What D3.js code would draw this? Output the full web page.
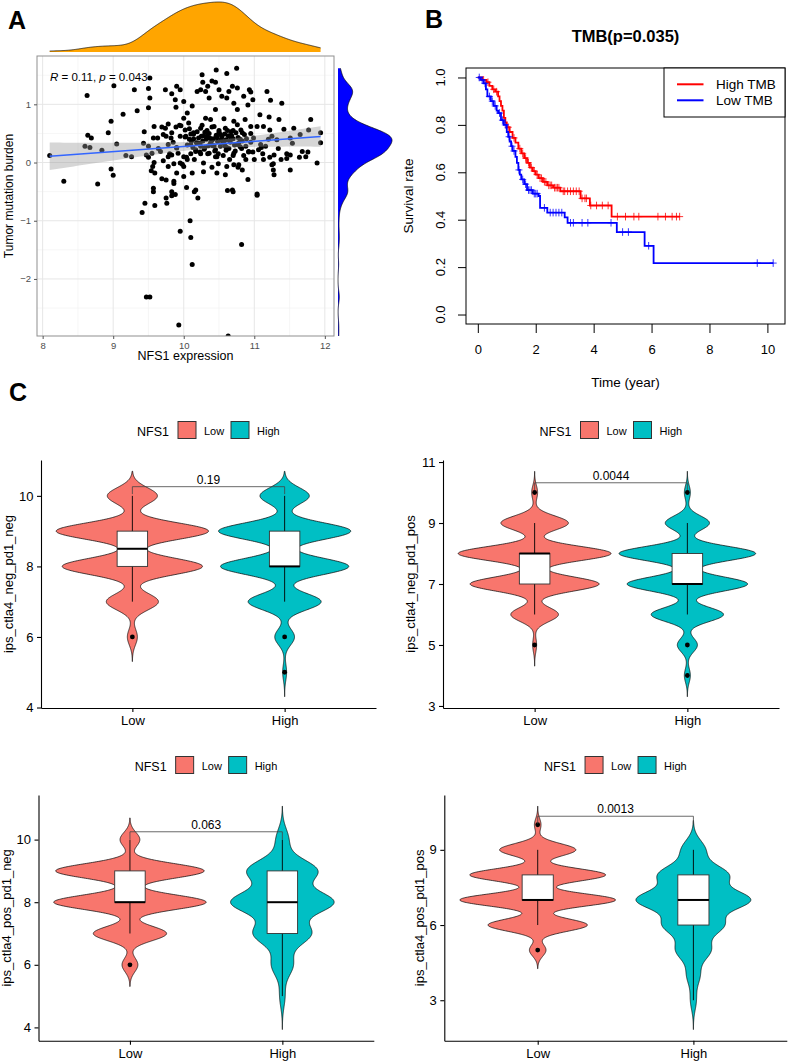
<!DOCTYPE html>
<html>
<head>
<meta charset="utf-8">
<script src="https://cdn.jsdelivr.net/npm/d3@7"></script>
<style>
  body { margin: 0; background: #fff; }
  svg { display: block; font-family: "Liberation Sans", Arial, Helvetica, sans-serif; }
</style>
</head>
<body>
<script>
/* ---------------- data: panel A (NFS1 expression vs TMB) ---------------- */
const nfs1Tmb = [
  [8.63,1.15],[9.01,1.32],[9.30,1.25],[9.52,1.45],[9.50,1.27],[9.52,1.11],[9.34,0.89],[9.50,0.94],[9.14,0.83],[8.97,0.71],
  [8.93,0.51],[8.64,0.47],[8.69,0.42],[8.60,0.28],[8.67,0.26],[8.84,0.21],[9.05,0.32],[8.10,0.12],[9.18,0.12],[9.26,0.10],
  [8.97,-0.11],[9.00,-0.22],[8.30,-0.32],[8.78,-0.37],[9.44,0.53],[9.57,0.42],[9.43,0.33],[9.50,0.28],[9.47,0.13],[9.55,0.16],
  [9.58,0.00],[9.56,-0.07],[9.59,-0.18],[9.57,-0.44],[9.69,0.61],[9.74,0.59],[9.71,0.48],[9.63,0.42],[9.78,0.31],[9.67,0.19],
  [9.78,0.10],[9.71,0.03],[9.78,-0.07],[9.75,-0.30],[9.86,-0.36],[9.83,-0.50],[9.74,1.25],[9.83,1.18],[9.90,1.31],[9.95,1.25],
  [9.88,1.08],[10.00,1.05],[9.89,0.95],[10.00,0.76],[9.96,0.63],[10.02,0.56],[9.83,0.51],[9.82,0.42],[9.90,0.25],[9.83,0.13],
  [9.92,0.16],[10.00,0.10],[9.86,-0.02],[9.95,-0.01],[10.00,-0.07],[9.90,-0.18],[10.00,-0.24],[9.88,-0.55],
  [10.75,1.62],[10.46,1.59],[10.61,1.53],[10.26,1.51],[10.27,1.38],[10.40,1.40],[10.45,1.38],[10.34,1.31],[10.24,1.25],[10.19,1.22],
  [10.31,1.22],[10.50,1.25],[10.64,1.22],[10.69,1.31],[10.76,1.28],[10.93,1.25],[10.95,1.21],[11.18,1.22],[10.54,1.14],[10.36,1.11],
  [10.61,1.11],[10.85,1.14],[10.98,1.08],[10.91,0.99],[10.71,1.02],[11.23,1.07],[11.39,1.02],[10.12,0.97],[10.05,0.85],[10.45,0.91],
  [10.76,0.91],[11.08,0.82],[11.21,0.78],[11.35,0.74],[11.80,0.74],[10.31,0.76],[10.38,0.74],[10.57,0.75],[10.71,0.71],[10.87,0.74],
  [10.07,0.68],[10.24,0.59],[10.43,0.62],[10.59,0.59],[10.76,0.65],[10.95,0.62],[11.04,0.62],[11.13,0.62],[11.22,0.56],[11.42,0.57],
  [11.56,0.59],[11.65,0.48],[11.77,0.56],[11.94,0.51],[11.94,0.34],[11.89,-0.01],[10.14,0.51],[10.03,0.45],[10.33,0.45],[10.52,0.48],
  [10.66,0.45],[10.83,0.51],[10.99,0.42],[11.25,0.45],[11.32,0.39],[11.51,0.42],[10.10,0.31],[10.24,0.28],[10.43,0.29],[10.59,0.28],
  [10.76,0.31],[10.88,0.28],[11.09,0.31],[11.16,0.28],[11.54,0.33],[10.17,0.19],[10.36,0.16],[10.47,0.10],[10.71,0.16],[10.92,0.19],
  [11.06,0.22],[11.28,0.13],[11.51,0.13],[11.68,0.19],[11.73,0.10],[10.05,0.05],[10.28,-0.01],[10.61,-0.07],[10.78,-0.04],[10.88,0.05],
  [11.13,0.05],[11.25,-0.04],[11.46,0.07],[10.12,-0.18],[10.28,-0.16],[10.47,-0.18],[10.71,-0.04],[10.83,-0.13],[11.27,-0.13],[11.51,-0.13],
  [10.59,-0.21],[11.28,-0.21],[10.17,-0.47],[10.69,-0.47],[11.04,-0.54],
  [9.57,-0.50],[9.75,-0.61],[9.83,-0.57],[9.45,-0.70],[9.59,-0.74],[9.76,-0.70],[9.41,-0.86],[10.15,-0.50],[10.20,-0.61],[10.62,-0.48],
  [10.70,-0.50],[11.04,-0.56],[10.09,-1.00],[9.95,-1.18],[10.10,-1.29],[10.82,-1.41],[10.12,-1.75],[9.47,-2.31],[9.52,-2.31],[9.93,-2.79],
  [10.63,-2.98],
  [9.54,-0.14],[9.86,-0.32],[9.98,-0.03],[10.04,-0.43],[10.49,-0.02],[10.77,-0.08],
  [10.91,-0.29],[11.27,-0.02],[9.69,-0.28],[9.89,0.61],
  [9.58,0.62],[9.78,0.66],[9.94,0.64],
  [9.50,0.09],[9.64,0.24],[9.80,0.15],[9.90,0.26],[10.04,0.09],[10.13,0.26],[10.23,0.18],[10.35,0.29],[10.49,0.15],[10.61,0.26],
  [10.70,0.12],[10.82,0.24],[10.98,0.18],[11.10,0.26],[11.22,0.09],[11.34,0.24],[11.46,0.15],[11.64,0.09],[11.76,0.18],
  [9.85,0.35],[10.08,0.40],[10.20,0.33],[10.40,0.38],[10.55,0.36],[10.65,0.05],[10.80,0.40],[10.95,0.35],[11.00,0.05],[10.30,0.52],
  [10.50,0.55],[10.70,0.55],[10.15,0.05],[10.40,-0.08],[9.95,0.45],[10.25,0.45],[10.85,0.12],[11.12,0.15],[11.38,0.05],[10.45,0.22],
  [10.65,0.38],[11.20,0.40],[9.75,0.45],[10.10,0.15],
  [10.02,0.44],[10.05,0.30],[10.08,0.58],[10.11,0.37],[10.14,0.49],[10.17,0.22],[10.19,0.53],[10.21,0.42],[10.23,0.33],[10.26,0.64],
  [10.28,0.46],[10.30,0.26],[10.32,0.40],[10.34,0.15],[10.36,0.50],[10.38,0.34],[10.40,0.61],[10.42,0.41],[10.44,0.20],[10.46,0.47],
  [10.48,0.36],[10.50,0.52],[10.52,0.28],[10.54,0.44],[10.56,0.12],[10.58,0.49],[10.60,0.39],[10.62,0.55],[10.64,0.24],[10.66,0.35],
  [10.68,0.46],[10.70,0.41],[10.72,0.30],[10.74,0.51],[10.77,0.43],[10.80,0.27],[10.83,0.37],[10.86,0.48],[10.89,0.41],[10.92,0.18],
  [10.14,0.41],[10.24,0.15],[10.33,0.55],[10.41,0.29],[10.47,0.43],[10.57,0.33],[10.63,0.46],[10.73,0.20],[10.81,0.56],[10.27,0.37],
  [10.37,0.42],[10.53,0.39],[10.67,0.53],[10.18,0.34],[10.45,0.10],[10.60,0.21],[10.78,0.34],[10.95,0.50],[10.10,0.49],[10.29,0.23]
];
const scatterXTicks = [8, 9, 10, 11, 12];
const scatterYTicks = [-2, -1, 0, 1];

/* ---------------- data: panel B (Kaplan-Meier, TMB groups) ---------------- */
// [time of drop, survival after drop]
const highTmbSteps = [
  [0.15,0.99],[0.3,0.98],[0.4,0.965],[0.5,0.95],[0.6,0.94],[0.7,0.92],[0.75,0.9],[0.8,0.88],[0.85,0.86],[0.9,0.83],
  [0.95,0.81],[1.0,0.79],[1.1,0.77],[1.2,0.745],[1.3,0.725],[1.4,0.7],[1.5,0.68],[1.6,0.66],[1.7,0.64],[1.8,0.62],
  [1.9,0.605],[2.0,0.59],[2.1,0.575],[2.25,0.56],[2.4,0.545],[2.6,0.535],[2.85,0.52],[3.55,0.49],[3.87,0.46],[4.62,0.413]
];
const highTmbCensor = [0.2,0.35,0.55,0.65,1.05,1.25,1.45,1.55,1.65,1.75,1.85,1.95,2.05,2.15,2.2,2.3,2.35,2.45,2.5,2.55,
  2.65,2.7,2.75,2.8,2.95,3.0,3.1,3.2,3.3,3.4,3.5,3.6,3.7,3.75,3.9,4.1,4.3,4.5,4.82,5.1,5.39,5.56,6.22,6.48,6.71,6.86,6.97];
const lowTmbSteps = [
  [0.1,0.99],[0.2,0.975],[0.28,0.95],[0.33,0.92],[0.45,0.9],[0.55,0.88],[0.65,0.86],[0.7,0.85],[0.8,0.82],[0.9,0.8],
  [1.0,0.77],[1.05,0.75],[1.1,0.73],[1.15,0.71],[1.2,0.69],[1.3,0.665],[1.35,0.64],[1.4,0.61],[1.45,0.59],[1.5,0.57],
  [1.6,0.55],[1.7,0.525],[1.9,0.51],[2.1,0.5],[2.15,0.45],[2.4,0.43],[3.0,0.41],[3.1,0.387],[4.8,0.348],[5.76,0.29],[6.07,0.217]
];
const lowTmbCensor = [0.05,0.15,0.25,0.4,0.5,0.6,0.75,0.85,0.95,1.08,1.18,1.25,1.42,1.55,1.65,1.75,1.8,1.85,1.95,2.0,
  2.05,2.3,2.5,2.6,2.7,2.8,2.9,3.2,3.3,3.6,3.8,4.6,5.0,5.2,5.9,9.65,10.2];
const kmXTicks = [0, 2, 4, 6, 8, 10];
const kmYTicks = [0, 0.2, 0.4, 0.6, 0.8, 1.0];

/* ---------------- data: panel C (IPS scores by NFS1 group) ---------------- */
const ipsScores = [3, 4, 5, 6, 7, 8, 9, 10];
const ctla4NegPd1NegLow  = [0, 0, 0, 5, 26, 70, 76, 25];
const ctla4NegPd1NegHigh = [0, 0, 2, 10, 37, 65, 67, 25];
const ctla4NegPd1PosLow  = [0, 0, 2, 24, 65, 77, 34, 3];
const ctla4NegPd1PosHigh = [0, 3, 10, 36, 60, 68, 22, 3];
const ctla4PosPd1NegLow  = [0, 0, 0, 8, 37, 77, 75, 10];
const ctla4PosPd1NegHigh = [0, 0, 3, 12, 32, 57, 39, 7];
const ctla4PosPd1PosLow  = [0, 0, 5, 30, 47, 41, 23, 2];
const ctla4PosPd1PosHigh = [5, 11, 29, 50, 95, 58, 20, 0];
const ipsLabels = ['ips_ctla4_neg_pd1_neg', 'ips_ctla4_neg_pd1_pos', 'ips_ctla4_pos_pd1_neg', 'ips_ctla4_pos_pd1_pos'];
const ipsPValues = ['0.19', '0.0044', '0.063', '0.0013'];
const ipsBracketY = [10.26, 10.32, 10.25, 10.34];
const ipsYTicks = [[4, 6, 8, 10], [3, 5, 7, 9, 11], [4, 6, 8, 10], [3, 6, 9]];
const groups = ['Low', 'High'];
const groupColors = ['#F8766D', '#00BFC4'];

/* ---------------- helpers ---------------- */
const svg = d3.select('body').append('svg').attr('width', 789).attr('height', 1062);

function nrd0(v) {
  const sd = d3.deviation(v);
  const iqr = (d3.quantile(v, 0.75) - d3.quantile(v, 0.25)) / 1.34;
  const lo = Math.min(sd, iqr) || sd;
  return 0.9 * lo * Math.pow(v.length, -0.2);
}

function kde(values, bw, lo, hi, m = 512) {
  const k = 1 / (values.length * bw * Math.sqrt(2 * Math.PI));
  return d3.range(m).map(i => {
    const t = lo + (hi - lo) * i / (m - 1);
    let s = 0;
    for (const v of values) { const z = (t - v) / bw; s += Math.exp(-0.5 * z * z); }
    return [t, s * k];
  });
}

function expand(counts) {
  return counts.flatMap((c, i) => d3.range(c).map(() => ipsScores[i]));
}

/* ---------------- panel A ---------------- */
function drawScatter() {
  const g = svg.append('g');
  const x = d3.scaleLinear().domain([7.92, 12.13]).range([37, 334]);
  const y = d3.scaleLinear().domain([-2.98, 1.83]).range([336, 56]);

  g.append('rect').attr('x', 37).attr('y', 56).attr('width', 297).attr('height', 280).attr('fill', '#fff');

  const xMinor = scatterXTicks.slice(0, -1).map(v => v + 0.5);
  const yMinor = [scatterYTicks[0] - 0.5, ...scatterYTicks.map(v => v + 0.5)];
  g.selectAll('line.xminor').data(xMinor).join('line')
    .attr('x1', d => x(d)).attr('x2', d => x(d)).attr('y1', 56).attr('y2', 336)
    .attr('stroke', '#F2F2F2').attr('stroke-width', 0.7);
  g.selectAll('line.yminor').data(yMinor).join('line')
    .attr('y1', d => y(d)).attr('y2', d => y(d)).attr('x1', 37).attr('x2', 334)
    .attr('stroke', '#F2F2F2').attr('stroke-width', 0.7);
  g.selectAll('line.xmajor').data(scatterXTicks).join('line')
    .attr('x1', d => x(d)).attr('x2', d => x(d)).attr('y1', 56).attr('y2', 336)
    .attr('stroke', '#E6E6E6').attr('stroke-width', 1);
  g.selectAll('line.ymajor').data(scatterYTicks).join('line')
    .attr('y1', d => y(d)).attr('y2', d => y(d)).attr('x1', 37).attr('x2', 334)
    .attr('stroke', '#E6E6E6').attr('stroke-width', 1);

  // linear fit + 95% band
  const n = nfs1Tmb.length;
  const mx = d3.mean(nfs1Tmb, d => d[0]), my = d3.mean(nfs1Tmb, d => d[1]);
  const sxx = d3.sum(nfs1Tmb, d => (d[0] - mx) ** 2);
  const sxy = d3.sum(nfs1Tmb, d => (d[0] - mx) * (d[1] - my));
  const b = sxy / sxx, a = my - b * mx;
  const s = Math.sqrt(d3.sum(nfs1Tmb, d => (d[1] - a - b * d[0]) ** 2) / (n - 2));
  const [x0, x1] = d3.extent(nfs1Tmb, d => d[0]);
  const fit = d3.range(80).map(i => {
    const v = x0 + (x1 - x0) * i / 79;
    const se = s * Math.sqrt(1 / n + (v - mx) ** 2 / sxx);
    return [v, a + b * v - 1.97 * se, a + b * v + 1.97 * se];
  });

  const clip = svg.append('clipPath').attr('id', 'clipA');
  clip.append('rect').attr('x', 37).attr('y', 56).attr('width', 297).attr('height', 280);
  const pg = g.append('g').attr('clip-path', 'url(#clipA)');

  pg.selectAll('circle').data(nfs1Tmb).join('circle')
    .attr('cx', d => x(d[0])).attr('cy', d => y(d[1])).attr('r', 2.5).attr('fill', '#000');

  pg.append('path').datum(fit)
    .attr('d', d3.area().x(d => x(d[0])).y0(d => y(d[1])).y1(d => y(d[2])))
    .attr('fill', '#999').attr('fill-opacity', 0.4);
  pg.append('path').datum(fit)
    .attr('d', d3.line().x(d => x(d[0])).y(d => y(a + b * d[0])))
    .attr('fill', 'none').attr('stroke', '#3366FF').attr('stroke-width', 1.6);

  g.append('rect').attr('x', 37).attr('y', 56).attr('width', 297).attr('height', 280)
    .attr('fill', 'none').attr('stroke', '#8F8F8F').attr('stroke-width', 1);

  // axes
  g.append('g').attr('transform', 'translate(0,336)')
    .call(d3.axisBottom(x).tickValues(scatterXTicks).tickFormat(d3.format('d')).tickSize(3).tickPadding(3).tickSizeOuter(0))
    .call(ax => ax.select('.domain').remove())
    .call(ax => ax.selectAll('line').attr('stroke', '#555'))
    .call(ax => ax.selectAll('text').attr('fill', '#4D4D4D').style('font-size', '9.5px').attr('font-family', null));
  g.append('g').attr('transform', 'translate(37,0)')
    .call(d3.axisLeft(y).tickValues(scatterYTicks).tickSize(3).tickPadding(3).tickSizeOuter(0).tickFormat(d => d < 0 ? '\u2212' + (-d) : d))
    .call(ax => ax.select('.domain').remove())
    .call(ax => ax.selectAll('line').attr('stroke', '#555'))
    .call(ax => ax.selectAll('text').attr('fill', '#4D4D4D').style('font-size', '9.5px').attr('font-family', null));

  g.append('text').attr('x', 185.5).attr('y', 360).attr('text-anchor', 'middle')
    .style('font-size', '12.5px').text('NFS1 expression');
  g.append('text').attr('transform', 'translate(13,196) rotate(-90)').attr('text-anchor', 'middle')
    .style('font-size', '12px').text('Tumor mutation burden');

  const ann = g.append('text').attr('x', 50).attr('y', 81).style('font-size', '11.5px');
  ann.append('tspan').attr('font-style', 'italic').text('R');
  ann.append('tspan').text(' = 0.11, ');
  ann.append('tspan').attr('font-style', 'italic').text('p');
  ann.append('tspan').text(' = 0.043');

  // marginal densities
  const xs = nfs1Tmb.map(d => d[0]), ys = nfs1Tmb.map(d => d[1]);
  const dx = kde(xs, nrd0(xs), x0, x1);
  const hx = d3.scaleLinear().domain([0, d3.max(dx, d => d[1])]).range([52, 2]);
  g.append('path').datum(dx)
    .attr('d', d3.area().x(d => x(d[0])).y0(52).y1(d => hx(d[1])))
    .attr('fill', '#FFA500');
  g.append('path').datum(dx)
    .attr('d', d3.line().x(d => x(d[0])).y(d => hx(d[1])))
    .attr('fill', 'none').attr('stroke', '#000').attr('stroke-width', 0.7);

  const [y0, y1] = d3.extent(ys);
  const dy = kde(ys, nrd0(ys), y0, y1);
  const wy = d3.scaleLinear().domain([0, d3.max(dy, d => d[1])]).range([338, 392]);
  g.append('path').datum(dy)
    .attr('d', d3.area().y(d => y(d[0])).x0(338).x1(d => wy(d[1])))
    .attr('fill', '#0000FF');
  g.append('path').datum(dy)
    .attr('d', d3.line().y(d => y(d[0])).x(d => wy(d[1])))
    .attr('fill', 'none').attr('stroke', '#000').attr('stroke-width', 0.7);
}

/* ---------------- panel B ---------------- */
function drawKM() {
  const g = svg.append('g');
  const tMax = d3.max([...highTmbCensor, ...lowTmbCensor]);
  const x = d3.scaleLinear().domain([-0.04 * tMax, 1.04 * tMax]).range([466, 785]);
  const y = d3.scaleLinear().domain([-0.04, 1.04]).range([324, 68]);

  const curves = [
    { steps: highTmbSteps, censor: highTmbCensor, color: '#FF0000' },
    { steps: lowTmbSteps, censor: lowTmbCensor, color: '#0000FF' }
  ];
  const survAt = (steps, t) => {
    let s = 1;
    for (const [ts, v] of steps) if (ts <= t) s = v;
    return s;
  };
  const line = d3.line().curve(d3.curveStepAfter).x(d => x(d[0])).y(d => y(d[1]));

  curves.forEach(c => {
    const end = d3.max(c.censor);
    const pts = [[0, 1], ...c.steps, [end, c.steps[c.steps.length - 1][1]]];
    g.append('path').datum(pts).attr('d', line)
      .attr('fill', 'none').attr('stroke', c.color).attr('stroke-width', 1.8);
    g.selectAll(null).data(c.censor).join('path')
      .attr('d', t => {
        const px = x(t), py = y(survAt(c.steps, t));
        return `M${px - 3.5},${py}H${px + 3.5}M${px},${py - 3.8}V${py + 3.8}`;
      })
      .attr('stroke', c.color).attr('stroke-width', 1).attr('stroke-opacity', 0.8);
  });

  g.append('rect').attr('x', 466).attr('y', 68).attr('width', 319).attr('height', 256)
    .attr('fill', 'none').attr('stroke', '#000').attr('stroke-width', 1);

  g.append('g').attr('transform', 'translate(0,324)')
    .call(d3.axisBottom(x).tickValues(kmXTicks).tickSize(9).tickPadding(12).tickSizeOuter(0))
    .call(ax => ax.select('.domain').remove())
    .call(ax => ax.selectAll('text').attr('fill', '#000').style('font-size', '13px').attr('font-family', null));
  g.append('g').attr('transform', 'translate(466,0)')
    .call(d3.axisLeft(y).tickValues(kmYTicks).tickSize(8).tickFormat(''))
    .call(ax => ax.select('.domain').remove());
  g.selectAll('text.ytick').data(kmYTicks).join('text')
    .attr('transform', d => `translate(444.5,${y(d)}) rotate(-90)`)
    .attr('text-anchor', 'middle').style('font-size', '13px').text(d3.format('.1f'));

  g.append('text').attr('x', 625.5).attr('y', 387).attr('text-anchor', 'middle')
    .style('font-size', '13.5px').text('Time (year)');
  g.append('text').attr('transform', 'translate(413,196) rotate(-90)').attr('text-anchor', 'middle')
    .style('font-size', '13.5px').text('Survival rate');
  g.append('text').attr('x', 625.5).attr('y', 41.5).attr('text-anchor', 'middle')
    .attr('font-weight', 'bold').style('font-size', '16.5px').text('TMB(p=0.035)');

  const lg = g.append('g');
  lg.append('rect').attr('x', 664).attr('y', 68).attr('width', 121).attr('height', 49)
    .attr('fill', '#fff').attr('stroke', '#000').attr('stroke-width', 1);
  [['High TMB', '#FF0000'], ['Low TMB', '#0000FF']].forEach(([lab, col], i) => {
    const yy = 84.3 + i * 16;
    lg.append('line').attr('x1', 677).attr('x2', 703.5).attr('y1', yy).attr('y2', yy)
      .attr('stroke', col).attr('stroke-width', 2);
    lg.append('text').attr('x', 716).attr('y', yy + 5).style('font-size', '13.5px').text(lab);
  });
}

/* ---------------- panel C ---------------- */
const violinBoxes = [
  { left: 41, right: 376, top: 460, bottom: 708 },
  { left: 443, right: 779, top: 460, bottom: 708 },
  { left: 38.5, right: 373.8, top: 795, bottom: 1040.7 },
  { left: 444.3, right: 786.8, top: 795, bottom: 1040.7 }
];
const violinCounts = [
  [ctla4NegPd1NegLow, ctla4NegPd1NegHigh],
  [ctla4NegPd1PosLow, ctla4NegPd1PosHigh],
  [ctla4PosPd1NegLow, ctla4PosPd1NegHigh],
  [ctla4PosPd1PosLow, ctla4PosPd1PosHigh]
];

function drawViolinPanel(idx) {
  const box = violinBoxes[idx];
  const g = svg.append('g');

  const stats = violinCounts[idx].map((counts, gi) => {
    const vals = expand(counts);
    const bw = nrd0(vals);
    const [lo, hi] = d3.extent(vals);
    const dens = kde(vals, bw, lo - 3 * bw, hi + 3 * bw);
    const q1 = d3.quantile(vals, 0.25), med = d3.median(vals), q3 = d3.quantile(vals, 0.75);
    const iqr = q3 - q1;
    const inside = vals.filter(v => v >= q1 - 1.5 * iqr && v <= q3 + 1.5 * iqr);
    const outl = Array.from(new Set(vals.filter(v => v < q1 - 1.5 * iqr || v > q3 + 1.5 * iqr)));
    return { group: groups[gi], color: groupColors[gi], dens, q1, med, q3,
      wlo: d3.min(inside), whi: d3.max(inside), outl, tipLo: lo - 3 * bw, tipHi: hi + 3 * bw };
  });

  const yMin = d3.min(stats, d => d.tipLo), yMax = d3.max(stats, d => d.tipHi);
  const pad = 0.05 * (yMax - yMin);
  const y = d3.scaleLinear().domain([yMin - pad, yMax + pad]).range([box.bottom, box.top]);
  const x = d3.scalePoint().domain(groups).range([box.left, box.right]).padding(0.6);
  const step = x.step();
  const maxD = d3.max(stats, s => d3.max(s.dens, d => d[1]));
  const w = d3.scaleLinear().domain([0, maxD]).range([0, 0.5 * step]);
  const bh = 0.1 * step;

  stats.forEach(s => {
    const cx = x(s.group);
    g.append('path').datum(s.dens)
      .attr('d', d3.area().y(d => y(d[0])).x0(d => cx - w(d[1])).x1(d => cx + w(d[1])))
      .attr('fill', s.color).attr('stroke', '#000').attr('stroke-width', 0.7);
    g.append('line').attr('x1', cx).attr('x2', cx).attr('y1', y(s.whi)).attr('y2', y(s.wlo))
      .attr('stroke', '#000').attr('stroke-width', 0.9);
    g.append('rect').attr('x', cx - bh).attr('width', 2 * bh)
      .attr('y', y(s.q3)).attr('height', y(s.q1) - y(s.q3))
      .attr('fill', '#fff').attr('stroke', '#333').attr('stroke-width', 0.9);
    g.append('line').attr('x1', cx - bh).attr('x2', cx + bh).attr('y1', y(s.med)).attr('y2', y(s.med))
      .attr('stroke', '#000').attr('stroke-width', 2);
    g.selectAll(null).data(s.outl).join('circle')
      .attr('cx', cx).attr('cy', d => y(d)).attr('r', 2.4).attr('fill', '#000');
  });

  // axes
  g.append('g').attr('transform', `translate(${box.left},0)`)
    .call(d3.axisLeft(y).tickValues(ipsYTicks[idx]).tickFormat(d3.format('d')).tickSize(4).tickPadding(3.5).tickSizeOuter(0))
    .call(ax => ax.select('.domain').attr('stroke-width', 1.1))
    .call(ax => ax.selectAll('line').attr('stroke-width', 1.1))
    .call(ax => ax.selectAll('text').attr('fill', '#000').style('font-size', '13px').attr('font-family', null));
  g.append('g').attr('transform', `translate(0,${box.bottom})`)
    .call(d3.axisBottom(x).tickSize(4).tickPadding(4).tickSizeOuter(0))
    .call(ax => ax.select('.domain').attr('stroke-width', 1.1))
    .call(ax => ax.selectAll('line').attr('stroke-width', 1.1))
    .call(ax => ax.selectAll('text').attr('fill', '#000').style('font-size', '13px').attr('font-family', null));

  const maxChars = d3.max(ipsYTicks[idx], d => String(d).length);
  const titleX = box.left - (13.5 + maxChars * 0.556 * 13);
  g.append('text').attr('transform', `translate(${titleX},${(box.top + box.bottom) / 2}) rotate(-90)`)
    .attr('text-anchor', 'middle').style('font-size', '13px').text(ipsLabels[idx]);

  // comparison bracket
  const by = y(ipsBracketY[idx]);
  const tip = y(ipsBracketY[idx] - 0.03 * (y.domain()[1] - y.domain()[0])) - by;
  const xl = x('Low'), xh = x('High');
  g.append('path').attr('d', `M${xl},${by + tip}V${by}H${xh}V${by + tip}`)
    .attr('fill', 'none').attr('stroke', '#444').attr('stroke-width', 0.8);
  g.append('text').attr('x', (xl + xh) / 2).attr('y', by - 3).attr('text-anchor', 'middle')
    .style('font-size', '12px').text(ipsPValues[idx]);

  // legend
  const cxm = (box.left + box.right) / 2;
  const lx = cxm - 71.5, ky = box.top - 38.5;
  const lg = g.append('g');
  lg.append('text').attr('x', lx).attr('y', box.top - 24.5).style('font-size', '12.5px').text('NFS1');
  groups.forEach((gr, i) => {
    lg.append('rect').attr('x', lx + 41 + i * 53).attr('y', ky).attr('width', 18).attr('height', 17)
      .attr('fill', groupColors[i]).attr('stroke', '#333').attr('stroke-width', 1);
    lg.append('text').attr('x', lx + 67 + i * 53).attr('y', box.top - 25)
      .style('font-size', '11px').text(gr);
  });
}

/* ---------------- run ---------------- */
drawScatter();
drawKM();
[0, 1, 2, 3].forEach(drawViolinPanel);

[['A', 8, 29], ['B', 425, 27.5], ['C', 9, 401]].forEach(([t, px, py]) => {
  svg.append('text').attr('x', px).attr('y', py).attr('font-weight', 'bold')
    .style('font-size', '25px').text(t);
});
</script>
</body>
</html>
